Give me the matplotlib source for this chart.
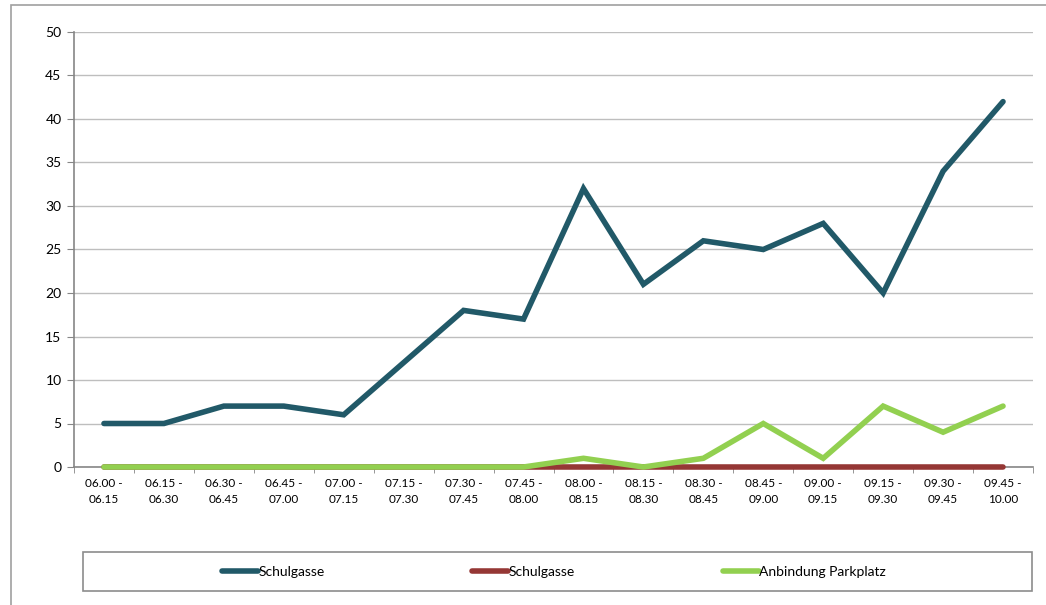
import matplotlib
matplotlib.use("Agg")
import matplotlib.pyplot as plt
from matplotlib.patches import Rectangle

CATEGORIES = [
    "06.00 -\n06.15", "06.15 -\n06.30", "06.30 -\n06.45", "06.45 -\n07.00",
    "07.00 -\n07.15", "07.15 -\n07.30", "07.30 -\n07.45", "07.45 -\n08.00",
    "08.00 -\n08.15", "08.15 -\n08.30", "08.30 -\n08.45", "08.45 -\n09.00",
    "09.00 -\n09.15", "09.15 -\n09.30", "09.30 -\n09.45", "09.45 -\n10.00",
]
SCHULGASSE_1 = [5, 5, 7, 7, 6, 12, 18, 17, 32, 21, 26, 25, 28, 20, 34, 42]
SCHULGASSE_2 = [0] * 16
PARKPLATZ = [0, 0, 0, 0, 0, 0, 0, 0, 1, 0, 1, 5, 1, 7, 4, 7]
Y_TICKS = list(range(0, 55, 5))

SERIES = [
    ("Schulgasse", SCHULGASSE_1, "#215968"),
    ("Schulgasse", SCHULGASSE_2, "#953735"),
    ("Anbindung Parkplatz", PARKPLATZ, "#92D050"),
]

plt.rcParams["font.family"] = ["Lato", "DejaVu Sans"]

W, H = 1046, 605
fig = plt.figure(figsize=(W / 100, H / 100), dpi=100)
ax = fig.add_axes([74 / W, 1 - 467 / H, (1033 - 74) / W, (467 - 32) / H])

x = list(range(len(CATEGORIES)))
for name, vals, color in SERIES:
    ax.plot(x, vals, color=color, linewidth=4.0, solid_capstyle="round",
            solid_joinstyle="miter", label=name, clip_on=False, zorder=3)

ax.set_xlim(-0.5, len(CATEGORIES) - 0.5)
ax.set_ylim(0, 50)
ax.set_yticks(Y_TICKS)
ax.yaxis.grid(True, color="#BEBEBE", linewidth=1.0)
ax.set_axisbelow(True)

ax.set_xticks(x)
ax.set_xticklabels(CATEGORIES, fontsize=8.5, linespacing=1.5)
ax.set_xticks([i - 0.5 for i in range(len(CATEGORIES) + 1)], minor=True)
ax.tick_params(axis="x", which="major", length=0, pad=8)
ax.tick_params(axis="x", which="minor", length=4, color="#868686")
ax.tick_params(axis="y", length=5, color="#868686", labelsize=10, pad=4)

for side in ["top", "right"]:
    ax.spines[side].set_visible(False)
for side in ["left", "bottom"]:
    ax.spines[side].set_color("#868686")
    ax.spines[side].set_linewidth(1.2)
    ax.spines[side].set_zorder(2)

# outer chart frame (cut off on the right / bottom)
fig.patches.append(Rectangle((11 / W, -0.1), 1.2, 1.1 - 5 / H, transform=fig.transFigure,
                             fill=False, edgecolor="#A0A0A0", linewidth=1.2))
# legend frame
fig.patches.append(Rectangle((83 / W, 1 - 591 / H), (1032 - 83) / W, 39 / H,
                             transform=fig.transFigure, fill=False,
                             edgecolor="#8C8C8C", linewidth=1.2))

handles, labels = ax.get_legend_handles_labels()
fig.legend(handles, labels, loc="center", bbox_to_anchor=(554 / W, 1 - 572 / H),
           ncol=3, frameon=False, fontsize=10, handlelength=2.6, handletextpad=0.05,
           columnspacing=10.6)

fig.savefig("out.png", dpi=100)
